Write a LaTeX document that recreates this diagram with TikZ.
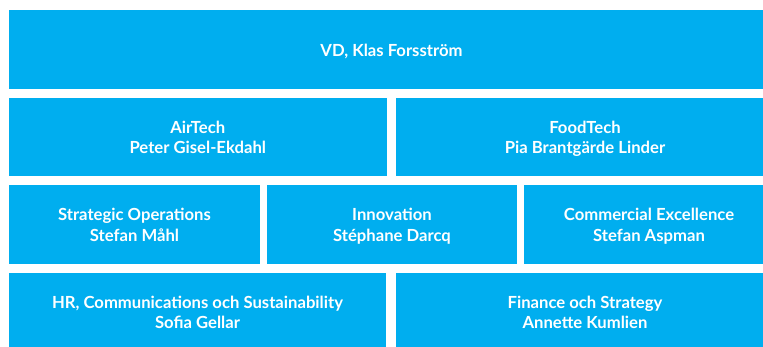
\documentclass[tikz,border=0pt]{standalone}
\usepackage{fontspec}
\setmainfont{Lato}
\definecolor{boxblue}{RGB}{0,174,239}
\newcommand\orgline[1]{\rule[-0.7pt]{0pt}{11.7pt}\smash{#1}}
\begin{document}
\begin{tikzpicture}[x=0.75pt,y=-0.75pt,
  orgbox/.style={fill=boxblue, draw=none, text=white,
    font=\bfseries\fontsize{12.5}{15.5}\selectfont, align=center,
    inner sep=0pt, minimum height=58.875pt}]
\useasboundingbox (0,0) rectangle (763,346);
\fill[white] (0,0) rectangle (763,346);
\clip (0,0) rectangle (763,346);
\node[orgbox, minimum width=573.75pt, minimum height=59.25pt] (vd) at (391.5,49.5) {\orgline{VD, Klas Forsström}};
\node[orgbox, minimum width=283.125pt] (air) at (197.75,136.75) {\orgline{AirTech}\\\orgline{Peter Gisel-Ekdahl}};
\node[orgbox, minimum width=283.5pt] (food) at (585,136.75) {\orgline{FoodTech}\\\orgline{Pia Brantgärde Linder}};
\node[orgbox, minimum width=188.25pt] (strat) at (134.5,224.25) {\orgline{Strategic Operations}\\\orgline{Stefan Måhl}};
\node[orgbox, minimum width=187.5pt] (innov) at (392,224.25) {\orgline{Innovation}\\\orgline{Stéphane Darcq}};
\node[orgbox, minimum width=187.5pt] (comm) at (649,224.25) {\orgline{Commercial Excellence}\\\orgline{Stefan Aspman}};
\node[orgbox, minimum width=282.75pt] (hr) at (197.5,311.75) {\orgline{HR, Communications och Sustainability}\\\orgline{Sofia Gellar}};
\node[orgbox, minimum width=283.5pt] (fin) at (585,311.75) {\orgline{Finance och Strategy}\\\orgline{Annette Kumlien}};
\end{tikzpicture}
\end{document}
